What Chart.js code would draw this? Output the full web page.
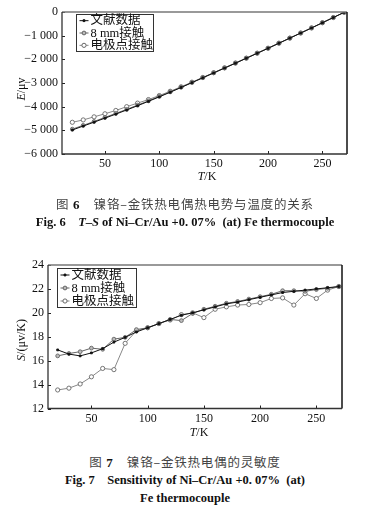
<!DOCTYPE html>
<html><head><meta charset="utf-8">
<script src="https://cdn.jsdelivr.net/npm/chart.js@4/dist/chart.umd.min.js"></script>
<style>
html,body{margin:0;padding:0;background:#fff;}
body{width:378px;height:514px;position:relative;overflow:hidden;font-family:"Liberation Serif","Noto Sans CJK SC",serif;color:#111;}
.cv{position:absolute;left:0;}
.t{position:absolute;white-space:nowrap;font-size:12px;line-height:14px;}
.yt{transform:translate(-50%,-50%) rotate(-90deg);}
.xt{transform:translate(-50%,-50%);}
.cap{position:absolute;left:-4px;width:378px;text-align:center;white-space:nowrap;line-height:16px;}
.zh{font-size:12.5px;color:#444;font-family:"Noto Sans CJK SC",sans-serif;letter-spacing:0.8px;}
.zh b{font-family:"Liberation Serif",serif;color:#111;font-size:13px;}
.en{font-size:12.5px;font-weight:bold;font-family:"Liberation Serif",serif;}
</style></head>
<body>
<div class="cv" style="top:0"><canvas id="c1" width="378" height="190"></canvas></div>
<div class="cv" style="top:240px"><canvas id="c2" width="378" height="200"></canvas></div>

<div class="t yt" style="left:21px;top:89px;"><i>E</i>/μv</div>
<div class="t xt" style="left:207px;top:176px;"><i>T</i>/K</div>
<div class="t yt" style="left:21px;top:340px;"><i>S</i>/(μv/K)</div>
<div class="t xt" style="left:199px;top:432px;"><i>T</i>/K</div>

<div class="cap zh" style="top:196px;">图 <b>6</b>&emsp;镍铬–金铁热电偶热电势与温度的关系</div>
<div class="cap en" style="top:214px;">Fig. 6&emsp;<i>T</i>–<i>S</i> of Ni–Cr/Au +0. 07% &nbsp;(at) Fe thermocouple</div>
<div class="cap zh" style="top:454px;">图 <b>7</b>&emsp;镍铬–金铁热电偶的灵敏度</div>
<div class="cap en" style="top:472px;">Fig. 7&emsp;Sensitivity of Ni–Cr/Au +0. 07% &nbsp;(at)</div>
<div class="cap en" style="top:490px;">Fe thermocouple</div>

<script>
const seriesNames = ['文献数据', '8 mm接触', '电极点接触'];
const temps = [20,30,40,50,60,70,80,90,100,110,120,130,140,150,160,170,180,190,200,210,220,230,240,250,260,270];

const litE  = [-4985,-4820,-4655,-4485,-4315,-4140,-3960,-3775,-3585,-3390,-3190,-2985,-2780,-2575,-2370,-2165,-1955,-1745,-1535,-1320,-1105,-890,-675,-455,-235,-15];
const mm8E  = [-4950,-4790,-4625,-4455,-4285,-4115,-3935,-3755,-3565,-3375,-3180,-2980,-2775,-2570,-2365,-2160,-1950,-1740,-1530,-1315,-1100,-885,-670,-450,-230,-12];
const elecE = [-4660,-4560,-4430,-4300,-4160,-4000,-3850,-3700,-3530,-3350,-3160,-2965,-2765,-2565,-2360,-2155,-1950,-1740,-1530,-1320,-1105,-890,-675,-455,-235,-15];

const litS  = [16.9,16.55,16.4,16.65,17.0,17.55,17.95,18.4,18.75,19.1,19.45,19.8,20.0,20.25,20.5,20.75,20.9,21.1,21.3,21.5,21.7,21.8,21.9,22.0,22.1,22.2];
const mm8S  = [16.4,16.6,16.75,17.05,16.95,17.8,17.95,18.6,18.75,19.1,19.45,19.35,19.95,20.3,20.55,20.8,20.95,21.15,21.35,21.55,21.85,21.85,21.8,21.95,22.05,22.2];
const elecS = [13.55,13.7,14.05,14.65,15.35,15.25,17.45,18.5,18.75,19.1,19.4,19.85,20.0,19.6,20.3,20.5,20.65,20.7,20.85,21.2,21.25,20.65,21.6,21.2,21.9,22.2];

const xTicks = [50,100,150,200,250];
const eTicks = [0,-1000,-2000,-3000,-4000,-5000,-6000];
const sTicks = [12,14,16,18,20,22,24];

const FONT = '"Liberation Serif","Noto Sans CJK SC",serif';

const styles = [
  {borderColor:'#111', pointBackgroundColor:'#111', pointBorderColor:'#111', pointStyle:'rect', pointRadius:1.3},
  {borderColor:'#666', pointBackgroundColor:'#bbb', pointBorderColor:'#666', pointStyle:'circle', pointRadius:1.9},
  {borderColor:'#888', pointBackgroundColor:'#fff', pointBorderColor:'#666', pointStyle:'circle', pointRadius:2.1}
];

function makeDatasets(arrs){
  return arrs.map((arr,i)=>Object.assign({
    label: seriesNames[i],
    data: temps.map((t,j)=>({x:t,y:arr[j]})),
    borderWidth:1, pointBorderWidth:0.9, pointHoverRadius:0, tension:0, fill:false
  }, styles[i]));
}

const decor = {
  id:'decor',
  afterDraw(chart, args, opts){
    const ctx = chart.ctx, a = chart.chartArea;
    ctx.save();
    ctx.strokeStyle = '#222'; ctx.lineWidth = 1;
    const xs = chart.scales.x, ys = chart.scales.y;
    xs.ticks.forEach(t=>{ const px = Math.round(xs.getPixelForValue(t.value))+0.5;
      ctx.beginPath(); ctx.moveTo(px, a.bottom); ctx.lineTo(px, a.bottom-3); ctx.stroke(); });
    ys.ticks.forEach(t=>{ const py = Math.round(ys.getPixelForValue(t.value))+0.5;
      ctx.beginPath(); ctx.moveTo(a.left, py); ctx.lineTo(a.left+3, py); ctx.stroke(); });
    ctx.lineWidth = 1.5;
    ctx.strokeStyle = '#777';
    ctx.beginPath(); ctx.moveTo(a.left, a.top); ctx.lineTo(a.right, a.top); ctx.stroke();
    ctx.strokeStyle = '#111';
    ctx.beginPath(); ctx.moveTo(a.right, a.top); ctx.lineTo(a.right, a.bottom); ctx.stroke();
    ctx.strokeStyle = '#333'; ctx.lineWidth = 1.3;
    ctx.beginPath(); ctx.moveTo(a.left, a.top); ctx.lineTo(a.left, a.bottom); ctx.lineTo(a.right, a.bottom); ctx.stroke();
    const x = Math.round(a.left + opts.dx)+0.5, y = Math.round(a.top + opts.dy)+0.5, w = opts.w, h = opts.h;
    ctx.fillStyle = '#fff'; ctx.fillRect(x, y, w, h);
    ctx.strokeStyle = '#333'; ctx.lineWidth = 1; ctx.strokeRect(x, y, w, h);
    const rh = h/3;
    chart.data.datasets.forEach((ds,i)=>{
      const cy = y + rh*(i+0.5);
      ctx.strokeStyle = ds.borderColor; ctx.lineWidth = 1;
      ctx.beginPath(); ctx.moveTo(x+3, cy); ctx.lineTo(x+12, cy); ctx.stroke();
      ctx.fillStyle = ds.pointBackgroundColor; ctx.strokeStyle = ds.pointBorderColor;
      Chart.helpers.drawPoint(ctx, {pointStyle: ds.pointStyle, radius: ds.pointRadius, borderWidth: 0.9, rotation:0}, x+7.5, cy);
      ctx.fillStyle = '#111'; ctx.font = '12.5px ' + FONT; ctx.textBaseline = 'middle'; ctx.textAlign = 'left';
      ctx.fillText(ds.label, x+14, cy+0.5);
    });
    ctx.restore();
  }
};

function makeChart(id, datasets, cfg){
  return new Chart(document.getElementById(id), {
    type:'line',
    data:{datasets},
    plugins:[decor],
    options:{
      responsive:false, animation:false, devicePixelRatio:1,
      layout:{padding:{top:cfg.padTop, right:cfg.padRight, left:0, bottom:0}},
      plugins:{legend:{display:false}, tooltip:{enabled:false}, decor:cfg.legend},
      scales:{
        x:{type:'linear', min:cfg.xmin, max:cfg.xmax,
           grid:{display:false, drawTicks:false}, border:{display:false},
           afterFit:s=>{s.height = cfg.xH;},
           afterBuildTicks:s=>{s.ticks = xTicks.map(v=>({value:v}));},
           ticks:{padding:3, color:'#111', font:{family:FONT, size:12}, maxRotation:0, autoSkip:false}},
        y:{type:'linear', min:cfg.ymin, max:cfg.ymax,
           grid:{display:false, drawTicks:false}, border:{display:false},
           afterFit:s=>{s.width = cfg.yW;},
           afterBuildTicks:s=>{s.ticks = cfg.yTicks.map(v=>({value:v}));},
           ticks:{padding:4, color:'#111', font:{family:FONT, size:12}, autoSkip:false, callback:cfg.fmt}}
      }
    }
  });
}

function fmtE(v){
  if (v === 0) return '0';
  const a = Math.abs(v);
  return '\u2212' + Math.floor(a/1000) + ' ' + String(a%1000).padStart(3,'0');
}

makeChart('c1', makeDatasets([litE, mm8E, elecE]), {
  padTop:12, padRight:31, xH:36, yW:62, xmin:10.5, xmax:272.6, ymin:-6000, ymax:0,
  yTicks:eTicks, fmt:fmtE, legend:{dx:14, dy:2, w:77, h:37}
});
makeChart('c2', makeDatasets([litS, mm8S, elecS]), {
  padTop:25, padRight:36, xH:31.5, yW:48, xmin:11.4, xmax:272.8, ymin:12, ymax:24,
  yTicks:sTicks, fmt:v=>String(v), legend:{dx:9, dy:2.7, w:79, h:39}
});
</script>
</body></html>
